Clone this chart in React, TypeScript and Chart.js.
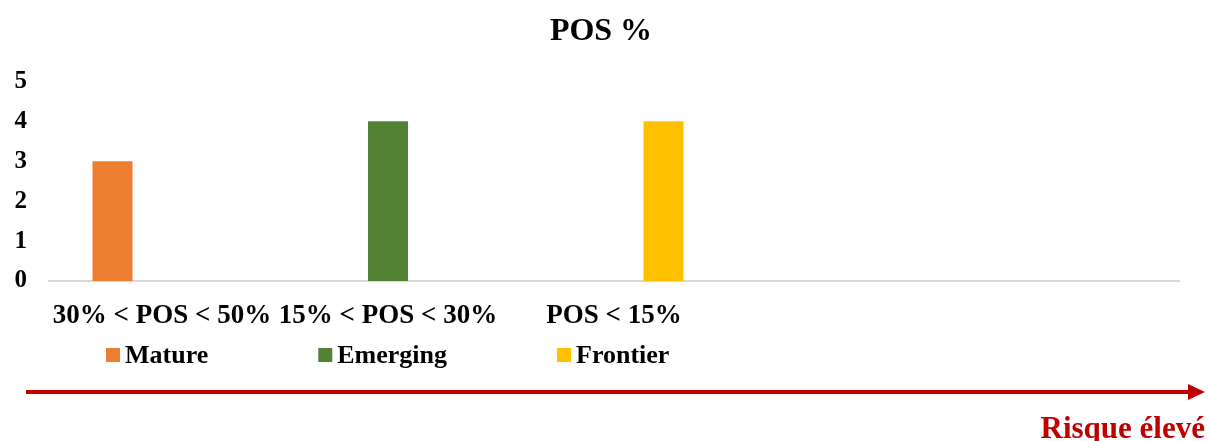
import React, { useEffect, useRef } from "react";
import { Chart, registerables } from "chart.js";

Chart.register(...registerables);

const categories = ["30% < POS < 50%", "15% < POS < 30%", "POS < 15%", "", ""];
const matureValues = [3, null, null, null, null];
const emergingValues = [null, 4, null, null, null];
const frontierValues = [null, null, 4, null, null];
const seriesNames = ["Mature", "Emerging", "Frontier"];
const seriesColors = ["#ED7D31", "#548235", "#FFC000"];
const yMin = 0;
const yMax = 5;
const titleText = "POS %";
const arrowText = "Risque élevé";

const FONT = "'Liberation Serif', 'Times New Roman', serif";

const overlayPlugin = {
  id: "overlay",
  afterDraw(chart: any) {
    const ctx = chart.ctx as CanvasRenderingContext2D;
    ctx.save();
    // custom legend
    ctx.font = `bold 26px ${FONT}`;
    ctx.textBaseline = "middle";
    ctx.textAlign = "left";
    let x = 106;
    const yMid = 356;
    chart.data.datasets.forEach((ds: any) => {
      ctx.fillStyle = ds.backgroundColor;
      ctx.fillRect(x, 348, 14, 14);
      ctx.fillStyle = "#000000";
      ctx.fillText(ds.label, x + 19, yMid);
      x += 19 + ctx.measureText(ds.label).width + 110;
    });
    // red arrow
    ctx.strokeStyle = "#C00000";
    ctx.fillStyle = "#C00000";
    ctx.lineWidth = 4;
    ctx.beginPath();
    ctx.moveTo(26, 392);
    ctx.lineTo(1190, 392);
    ctx.stroke();
    ctx.beginPath();
    ctx.moveTo(1188, 384);
    ctx.lineTo(1205, 392);
    ctx.lineTo(1188, 400);
    ctx.closePath();
    ctx.fill();
    ctx.font = `bold 31px ${FONT}`;
    ctx.textAlign = "right";
    ctx.textBaseline = "alphabetic";
    ctx.fillText(arrowText, 1205, 438);
    ctx.restore();
  },
};

export default function App() {
  const canvasRef = useRef<HTMLCanvasElement | null>(null);

  useEffect(() => {
    document.body.style.margin = "0";
    const canvas = canvasRef.current;
    if (!canvas) return;
    const chart = new Chart(canvas, {
      type: "bar",
      data: {
        labels: categories,
        datasets: [
          { label: seriesNames[0], data: matureValues, backgroundColor: seriesColors[0] },
          { label: seriesNames[1], data: emergingValues, backgroundColor: seriesColors[1] },
          { label: seriesNames[2], data: frontierValues, backgroundColor: seriesColors[2] },
        ],
      },
      options: {
        responsive: false,
        animation: false,
        devicePixelRatio: 1,
        categoryPercentage: 0.657,
        barPercentage: 0.808,
        layout: { padding: { top: 0, right: 8, bottom: 0, left: 0 } },
        plugins: {
          legend: { display: false },
          tooltip: { enabled: false },
          title: {
            display: true,
            text: titleText,
            color: "#000000",
            font: { family: FONT, size: 32, weight: "bold", lineHeight: 1.2 },
            padding: { top: 13, bottom: 30 },
          },
        },
        scales: {
          x: {
            grid: { display: false, drawTicks: false },
            border: { display: true, color: "#D9D9D9", width: 2 },
            ticks: {
              color: "#000000",
              font: { family: FONT, size: 27, weight: "bold", lineHeight: 1.2 },
              padding: 19,
              maxRotation: 0,
              autoSkip: false,
            },
            afterFit: (scale: any) => {
              scale.height = 160;
            },
          },
          y: {
            min: yMin,
            max: yMax,
            grid: { display: false, drawTicks: false },
            border: { display: false },
            ticks: {
              stepSize: 1,
              color: "#000000",
              font: { family: FONT, size: 25, weight: "bold", lineHeight: 1.2 },
              padding: 22,
            },
            afterFit: (scale: any) => {
              scale.width = 49;
            },
          },
          yRight: {
            position: "right",
            display: true,
            min: yMin,
            max: yMax,
            grid: { display: false, drawTicks: false },
            border: { display: false },
            ticks: { display: false },
            afterFit: (scale: any) => {
              scale.width = 23;
            },
          },
        },
      },
      plugins: [overlayPlugin],
    });
    return () => chart.destroy();
  }, []);

  return (
    <div style={{ width: 1210, height: 441 }}>
      <canvas ref={canvasRef} width={1210} height={441} style={{ display: "block" }} />
    </div>
  );
}
